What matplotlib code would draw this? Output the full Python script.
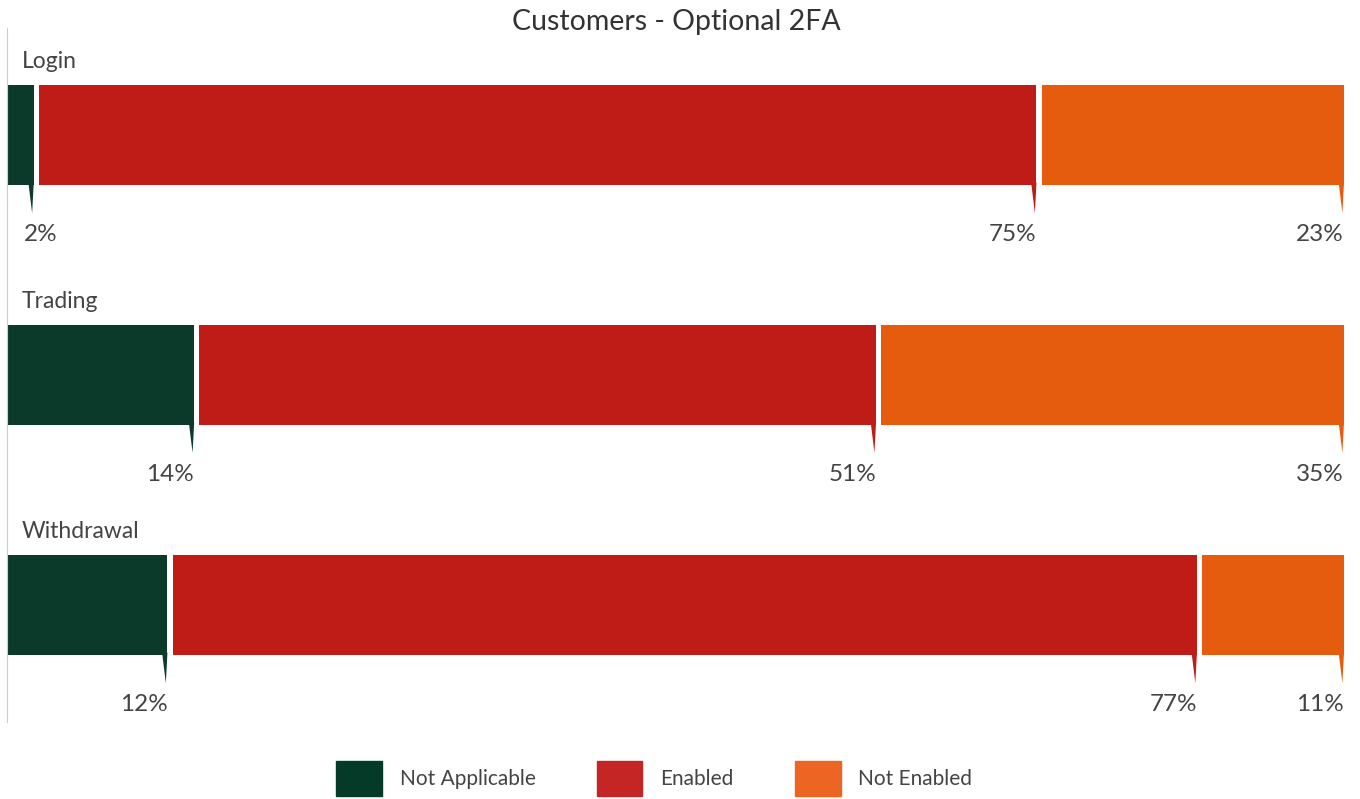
#!/usr/bin/env python3
"""Stacked horizontal bars of optional 2FA status per customer action."""

import matplotlib.pyplot as plt
import numpy as np
from matplotlib.patches import Patch, Polygon

categories = ["Login", "Trading", "Withdrawal"]
series = ["Not Applicable", "Enabled", "Not Enabled"]
not_applicable = [2, 14, 12]
enabled = [75, 51, 77]
not_enabled = [23, 35, 11]

bar_colors = ["#0b3a2a", "#c01c17", "#e65c0e"]
legend_colors = ["#063a28", "#c42625", "#ec6522"]
text_color = "#444444"


def main():
    plt.rcParams["font.family"] = ["Lato", "DejaVu Sans"]
    fig = plt.figure(figsize=(13.6, 7.99), dpi=100)
    ax = fig.add_axes([7 / 1360, 77 / 799, 1337 / 1360, 694 / 799])

    values = np.array([not_applicable, enabled, not_enabled], dtype=float)
    ypos = np.array([0, 1.02, 2.0])
    height = 0.4255
    gap = 0.38  # white gap between segments, in percent units
    tail = 0.12  # tail length below the bar, in row units

    left = np.zeros(len(categories))
    for i, (name, color) in enumerate(zip(series, bar_colors)):
        vals = values[i]
        starts = left + (gap if i > 0 else 0)
        ax.barh(ypos, left + vals - starts, left=starts, height=height,
                color=color, linewidth=0)
        for y, end, v in zip(ypos, left + vals, vals):
            bottom = y + height / 2
            ax.add_patch(Polygon(
                [(end - 0.4, bottom - 0.01), (end, bottom - 0.01),
                 (end - 0.12, bottom + tail)],
                closed=True, color=color, linewidth=0))
            # labels that would run off the left edge are pushed inside
            if end < 4:
                ax.text(1.25, bottom + 0.21, f"{v:.0f}%", ha="left",
                        va="center", fontsize=17.5, color=text_color)
            else:
                ax.text(end, bottom + 0.21, f"{v:.0f}%", ha="right",
                        va="center", fontsize=17.5, color=text_color)
        left = left + vals

    for y, cat in zip(ypos, categories):
        ax.text(1.1, y - height / 2 - 0.055, cat, ha="left", va="bottom",
                fontsize=16.5, color=text_color)

    ax.set_xlim(0, 100)
    ax.set_ylim(2.498, -0.455)
    ax.set_xticks([])
    ax.set_yticks([])
    for side in ["top", "right", "bottom"]:
        ax.spines[side].set_visible(False)
    ax.spines["left"].set_color("#cccccc")

    fig.text(0.497, 0.973, "Customers - Optional 2FA", ha="center",
             va="center", fontsize=20.5, color="#333333")

    handles = [Patch(color=c, label=s) for c, s in zip(legend_colors, series)]
    fig.legend(handles=handles, loc="center", bbox_to_anchor=(0.481, 0.026),
               ncol=3, frameon=False, fontsize=15, handlelength=2.2,
               handleheight=2.2, handletextpad=0.86, columnspacing=2.93,
               labelcolor=text_color)

    fig.savefig("out.png", dpi=100)


if __name__ == "__main__":
    main()
